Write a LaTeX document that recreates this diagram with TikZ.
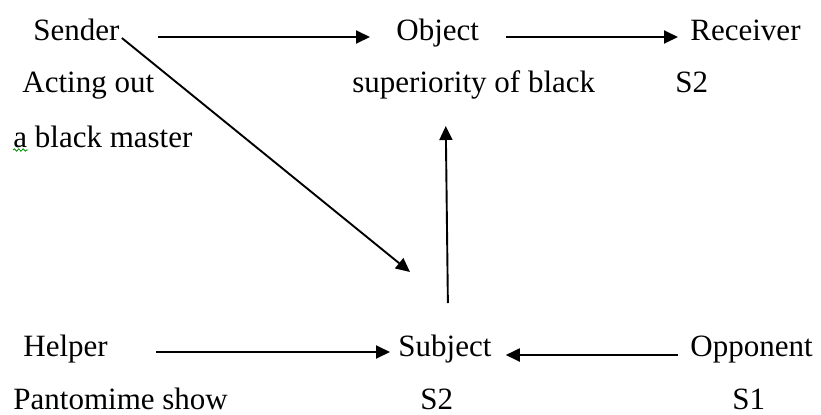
\documentclass[tikz,border=0pt]{standalone}
\usepackage{fontspec}
\setmainfont{Liberation Serif}
\usetikzlibrary{arrows.meta,decorations.pathmorphing}

\begin{document}
\begin{tikzpicture}[
      x=0.5pt,y=-0.5pt,
      txt/.style={inner sep=0pt,anchor=base west,font=\fontsize{15.5}{18}\selectfont},
      arr/.style={line width=0.95pt,-{Triangle[length=7pt,width=6.5pt]}},
      spell/.style={green!55!black,line width=0.4pt,decorate,decoration={snake,amplitude=0.6pt,segment length=2.2pt}}]
    \useasboundingbox (0,0) rectangle (821,414);
    % top row
    \node[txt] (sender)   at (33,40)   {Sender};
    \node[txt] (acting)   at (22,92)   {Acting out};
    \node[txt] (master)   at (13,147)  {a black master};
    \node[txt] (object)   at (396,40)  {Object};
    \node[txt] (superior) at (352,92)  {superiority of black};
    \node[txt] (receiver) at (690,40)  {Receiver};
    \node[txt] (recs)     at (675,92)  {S2};
    % bottom row
    \node[txt] (helper)   at (23,356)  {Helper};
    \node[txt] (panto)    at (13,409)  {Pantomime show};
    \node[txt] (subject)  at (398,356) {Subject};
    \node[txt] (subs)     at (420,409) {S2};
    \node[txt] (opponent) at (690,356) {Opponent};
    \node[txt] (opps)     at (732,409) {S1};
    \draw[spell] ([shift={(0,3)}]master.base west) -- ++(15,0);
    \draw[arr] ([shift={(38,-3)}]sender.base east) -- ([shift={(-26,-3)}]object.base west);
    \draw[arr] ([shift={(27,-3)}]object.base east) -- ([shift={(-12,-3)}]receiver.base west);
    \draw[arr] ([shift={(2,-2)}]sender.base east) -- ([shift={(12,-84)}]subject.base west);
    \draw[arr] ([shift={(3,-53)}]subject.base) -- ([shift={(-28,34)}]superior.base);
    \draw[arr] ([shift={(48,-4)}]helper.base east) -- ([shift={(-8,-4)}]subject.base west);
    \draw[arr] ([shift={(-12,-1)}]opponent.base west) -- ([shift={(14,-1)}]subject.base east);
  \end{tikzpicture}
\end{document}
